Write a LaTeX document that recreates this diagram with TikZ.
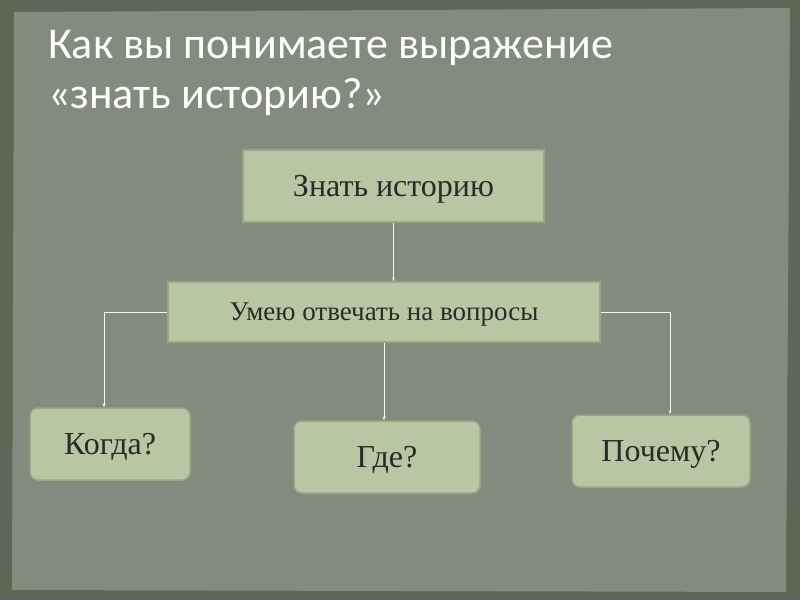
\documentclass[tikz,border=0pt]{standalone}
\usepackage{fontspec}
\setmainfont{Liberation Serif}
\newfontfamily\titlefont{Carlito}
\usetikzlibrary{positioning,arrows.meta}
\definecolor{frame}{HTML}{5E6655}
\definecolor{paper}{HTML}{858A7F}
\definecolor{sage}{HTML}{B8C6A3}
\definecolor{sageline}{HTML}{98A886}
\definecolor{ink}{HTML}{2A2A26}
\tikzset{
  box/.style={rectangle,draw=sageline,line width=1.5pt,fill=sage,text=ink,text depth=0pt},
  rbox/.style={box,rounded corners=8pt},
  link/.style={draw=white!85!sage,line width=0.8pt,-{Stealth[length=4pt,width=3pt]}}
}
\begin{document}
\begin{tikzpicture}[x=1pt,y=-1pt]
\useasboundingbox (0,0) rectangle (800,600);
\fill[frame] (0,0) rectangle (800,600);
\fill[paper] (14,12) -- (790,8) -- (786,592) -- (12,590) -- cycle;
% title
\node[anchor=base west,inner sep=0,text=white,font=\titlefont\fontsize{44}{48}\selectfont] (t1) at (48,58) {Как вы понимаете выражение};
\node[anchor=base west,inner sep=0,text=white,font=\titlefont\fontsize{44}{48}\selectfont] (t2) at (48,108) {«знать историю?»};
% boxes
\node[box,minimum width=301,minimum height=72,font=\fontsize{32}{36}\selectfont] (know) at (393.5,186) {Знать историю};
\node[box,minimum width=432,minimum height=60,font=\fontsize{27}{30}\selectfont] (answer) at (384,312) {Умею отвечать на вопросы};
\node[rbox,minimum width=160,minimum height=72,font=\fontsize{32}{36}\selectfont] (when) at (110,444) {Когда?};
\node[rbox,minimum width=186,minimum height=72,font=\fontsize{32}{36}\selectfont] (where) at (387,457) {Где?};
\node[rbox,minimum width=178,minimum height=72,font=\fontsize{32}{36}\selectfont] (why) at (661,451) {Почему?};
% links
\draw[link] (know.south) -- (answer.north -| know.south);
\draw[link] (answer.west) -| (104,0 |- when.north);
\draw[link] (answer.south) -- (answer.south |- where.north);
\draw[link] (answer.east) -| (670,0 |- why.north);
\end{tikzpicture}
\end{document}
